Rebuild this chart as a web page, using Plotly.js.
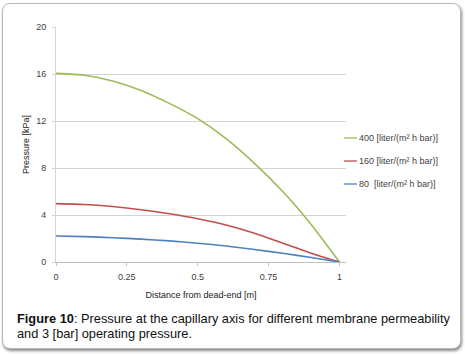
<!DOCTYPE html>
<html>
<head>
<meta charset="utf-8">
<script src="https://cdn.plot.ly/plotly-3.0.1.min.js"></script>
<style>
html,body{margin:0;padding:0;background:#fff;width:465px;height:354px;overflow:hidden;}
#card{position:absolute;left:2px;top:3px;width:457px;height:344px;border:1px solid #b8b8b8;border-radius:8px;box-shadow:1px 2px 3px #8a8a8a;background:#fff;}
#chart{position:absolute;left:0;top:0;width:465px;height:354px;}
#cap{position:absolute;left:17px;top:311px;width:445px;font-family:"Liberation Sans",Arial,sans-serif;font-size:12.8px;line-height:15px;color:#111;white-space:nowrap;}
</style>
</head>
<body>
<div id="card"></div>
<div id="chart"></div>
<div id="cap"><div><b>Figure 10</b><span>: Pressure at the capillary axis for different membrane permeability</span></div><div>and 3 [bar] operating pressure.</div></div>
<script>
const distance = [0, 0.1, 0.2, 0.3, 0.4, 0.5, 0.6, 0.7, 0.8, 0.9, 1.0];
const p400 = [16.05, 15.9, 15.4, 14.6, 13.5, 12.2, 10.5, 8.4, 6.0, 3.2, 0];
const p160 = [4.97, 4.9, 4.72, 4.45, 4.1, 3.68, 3.15, 2.45, 1.6, 0.75, 0];
const p80 = [2.21, 2.16, 2.07, 1.95, 1.8, 1.6, 1.36, 1.07, 0.74, 0.38, 0];
const seriesNames = ["400 [liter/(m² h bar)]", "160 [liter/(m² h bar)]", "80  [liter/(m² h bar)]"];
const seriesColors = ["#9bbb59", "#c0504d", "#4f81bd"];
const seriesValues = [p400, p160, p80];
const xTicks = [0, 0.25, 0.5, 0.75, 1];
const xTickText = ["0", "0.25", "0.5", "0.75", "1"];
const yTicks = [0, 4, 8, 12, 16, 20];

const traces = seriesValues.map((v, i) => ({
  x: distance, y: v, type: "scatter", mode: "lines", name: seriesNames[i],
  line: {color: seriesColors[i], width: 1.6, shape: "spline", smoothing: 0.6},
  showlegend: false, hoverinfo: "none"
}));

const W = 465, H = 354, ml = 56, mr = 119, mt = 27, mb = 92;
const pw = W - ml - mr, ph = H - mt - mb;
const legY = [138, 161, 184];
const shapes = [], annotations = [];
seriesNames.forEach((n, i) => {
  const yp = 1 - (legY[i] - mt) / ph;
  shapes.push({type: "line", xref: "paper", yref: "paper",
    x0: (344 - ml) / pw, x1: (357 - ml) / pw, y0: yp, y1: yp,
    line: {color: seriesColors[i], width: 1.3}});
  annotations.push({xref: "paper", yref: "paper", x: (357 - ml) / pw, y: yp,
    xanchor: "left", yanchor: "middle", showarrow: false, text: n,
    font: {family: "Liberation Sans, Arial, sans-serif", size: 9, color: "#404040"}});
});

const layout = {
  width: W, height: H,
  margin: {l: ml, r: mr, t: mt, b: mb, pad: 0},
  paper_bgcolor: "rgba(0,0,0,0)", plot_bgcolor: "rgba(0,0,0,0)",
  font: {family: "Liberation Sans, Arial, sans-serif", size: 9, color: "#404040"},
  xaxis: {range: [0, 1.023], tickvals: xTicks, ticktext: xTickText, showgrid: false,
    zeroline: false, showline: true, linecolor: "#bfbfbf", linewidth: 1,
    ticks: "outside", ticklen: 3, tickcolor: "#bfbfbf", ticklabelstandoff: 3,
    tickfont: {size: 9, color: "#404040"},
    title: {text: "Distance from dead-end [m]", standoff: 10, font: {size: 9, color: "#222"}}},
  yaxis: {range: [0, 20], tickvals: yTicks, showgrid: true, gridcolor: "#d4d4d4",
    gridwidth: 1, zeroline: false, showline: true, linecolor: "#d4d4d4",
    ticks: "outside", ticklen: 3, tickcolor: "#d4d4d4", ticklabelstandoff: 4,
    tickfont: {size: 9, color: "#404040"},
    title: {text: "Pressure [kPa]", standoff: 5, font: {size: 9, color: "#222"}}},
  shapes: shapes, annotations: annotations
};
Plotly.newPlot("chart", traces, layout, {displayModeBar: false, staticPlot: true});
</script>
</body>
</html>
